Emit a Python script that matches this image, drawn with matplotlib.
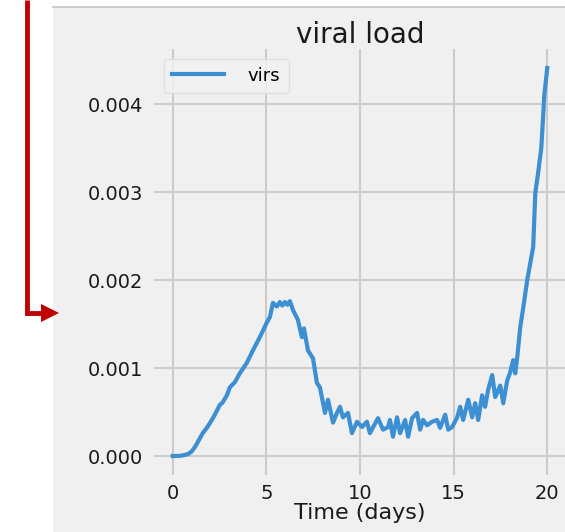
import numpy as np
import matplotlib
matplotlib.use("Agg")
import matplotlib.pyplot as plt
from matplotlib.ticker import FormatStrFormatter
from matplotlib.patches import Rectangle, Polygon
from matplotlib.lines import Line2D

# tiempo (dias) y carga viral (en milesimas)
days = [0.0, 0.4, 0.8, 1.0, 1.18, 1.34, 1.6, 1.82, 2.09, 2.25, 2.51, 2.67, 2.89,
        3.05, 3.32, 3.58, 3.96, 4.28, 4.65, 5.03, 5.19, 5.35, 5.56, 5.72, 5.85,
        5.99, 6.12, 6.26, 6.42, 6.68, 6.9, 7.01, 7.22, 7.49, 7.7, 7.86, 8.13,
        8.29, 8.56, 8.77, 8.93, 9.09, 9.36, 9.57, 9.84, 10.11, 10.37, 10.53,
        10.96, 11.23, 11.5, 11.6, 11.76, 11.98, 12.14, 12.41, 12.57, 12.78,
        13.05, 13.21, 13.37, 13.58, 13.85, 14.12, 14.28, 14.55, 14.71, 14.92,
        15.19, 15.35, 15.51, 15.78, 15.99, 16.15, 16.31, 16.52, 16.68, 16.84,
        17.06, 17.22, 17.49, 17.65, 17.86, 18.02, 18.18, 18.29, 18.4, 18.56,
        18.72, 18.93, 19.09, 19.25, 19.36, 19.5, 19.68, 19.79, 19.84, 20.0]
virs_milli = [0.0, 0.002, 0.02, 0.05, 0.10, 0.16, 0.26, 0.32, 0.41, 0.47, 0.58,
              0.61, 0.69, 0.78, 0.84, 0.94, 1.06, 1.20, 1.35, 1.52, 1.58, 1.74,
              1.70, 1.75, 1.71, 1.75, 1.72, 1.76, 1.66, 1.55, 1.35, 1.45, 1.20,
              1.11, 0.83, 0.78, 0.49, 0.64, 0.38, 0.49, 0.56, 0.44, 0.49, 0.26,
              0.39, 0.33, 0.39, 0.26, 0.43, 0.30, 0.33, 0.41, 0.22, 0.44, 0.26,
              0.41, 0.22, 0.43, 0.49, 0.30, 0.41, 0.35, 0.39, 0.41, 0.32, 0.47,
              0.30, 0.33, 0.44, 0.56, 0.41, 0.64, 0.44, 0.60, 0.41, 0.69, 0.56,
              0.75, 0.92, 0.67, 0.80, 0.60, 0.86, 0.95, 1.09, 0.94, 1.13, 1.47,
              1.69, 2.00, 2.19, 2.38, 2.99, 3.20, 3.50, 3.90, 4.10, 4.41]
virs = np.array(virs_milli) * 1e-3

W, H = 565, 532
fig = plt.figure(figsize=(W / 100, H / 100), dpi=100, facecolor="white")

def fx(px):
    return px / W

def fy(py):
    return 1 - py / H

# fondo gris de la figura (recortada a la izquierda)
fig.add_artist(Rectangle((fx(53), 0), 1 - fx(53), fy(7), transform=fig.transFigure,
                         facecolor="#f0f0f0", edgecolor="none", zorder=0))
fig.add_artist(Line2D([fx(53), 1], [fy(7), fy(7)], transform=fig.transFigure,
                      color="#c4c4c4", lw=1.2))

# flecha roja
red = "#c00000"
fig.add_artist(Line2D([fx(27), fx(27), fx(44)], [1, fy(313), fy(313)],
                      transform=fig.transFigure, color=red, lw=3.5,
                      solid_joinstyle="miter", solid_capstyle="butt"))
fig.add_artist(Polygon([[fx(41), fy(304)], [fx(59), fy(313)], [fx(41), fy(322)]],
                       closed=True, transform=fig.transFigure,
                       facecolor=red, edgecolor="none"))

ax = fig.add_axes([fx(154), 1 - 475.4 / H, (566 - 154) / W, (475.4 - 48.6) / H])
ax.set_facecolor("#f0f0f0")
for s in ax.spines.values():
    s.set_visible(False)

ax.plot(days, virs, color="#3b8fd2", lw=3, label="virs")

ax.set_xlim(-1, 21)
ax.set_ylim(-0.00022, 0.00463)
ax.set_xticks([0, 5, 10, 15, 20])
ax.set_yticks([0, 0.001, 0.002, 0.003, 0.004])
ax.yaxis.set_major_formatter(FormatStrFormatter("%.3f"))
ax.grid(True, color="#cbcbcb", lw=1.5)
ax.set_axisbelow(True)
ax.tick_params(length=0, labelsize=14, colors="#1a1a1a")
ax.tick_params(axis="y", pad=8)
ax.tick_params(axis="x", pad=6)

ax.set_title("viral load", fontsize=20, color="#1a1a1a", pad=4)
ax.set_xlabel("Time (days)", fontsize=16, color="#1a1a1a", labelpad=0)

leg = ax.legend(loc="upper left", fontsize=13, handlelength=2.9,
                handletextpad=1.3, borderpad=0.45, frameon=True,
                fancybox=True, borderaxespad=0.55)
leg.get_frame().set_facecolor("#f2f2f2")
leg.get_frame().set_edgecolor("#dcdcdc")

fig.savefig("out.png", dpi=100, facecolor=fig.get_facecolor())
